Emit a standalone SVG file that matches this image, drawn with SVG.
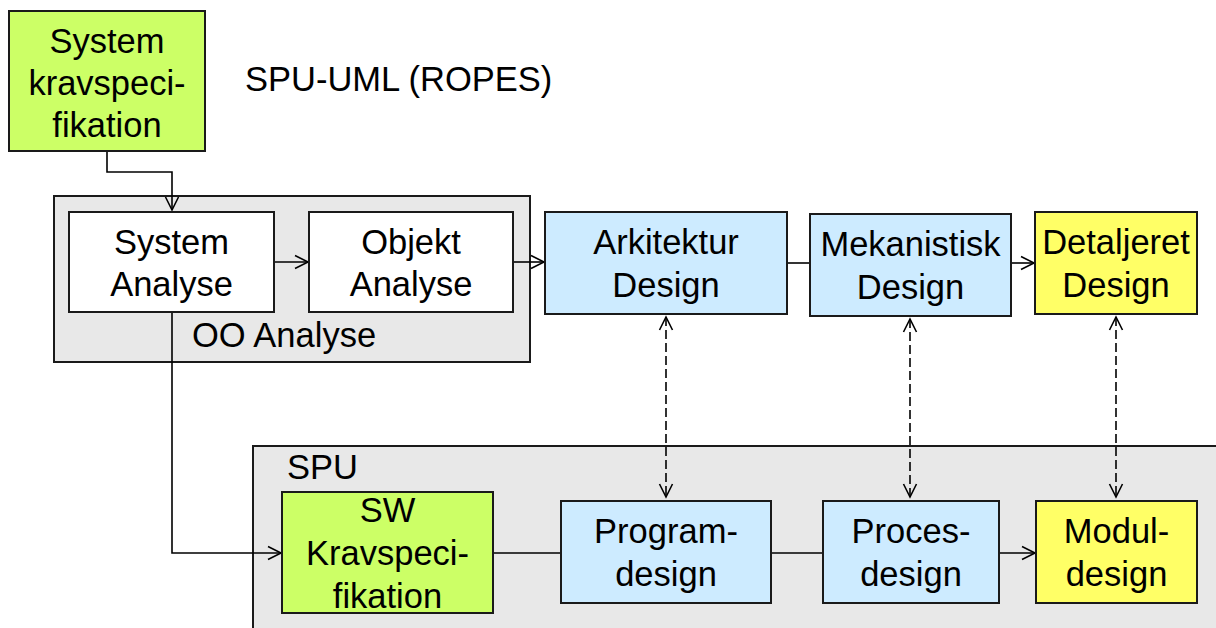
<svg xmlns="http://www.w3.org/2000/svg" width="1216" height="628" viewBox="0 0 1216 628">
<defs>
<style>
text{font-family:"Liberation Sans",Arial,sans-serif;font-size:34.5px;fill:#000}
.c{text-anchor:middle}
.box{stroke:#1a1a1a;stroke-width:2}
.lime{fill:#ccff66}
.blue{fill:#cdebff}
.yel{fill:#ffff66}
.wht{fill:#ffffff}
.grp{fill:#e8e8e8;stroke:#1a1a1a;stroke-width:2}
.ln{fill:none;stroke:#000;stroke-width:1.6}
.dash{stroke-dasharray:9,4}
</style>
<marker id="arr" markerUnits="userSpaceOnUse" markerWidth="16" markerHeight="16" viewBox="0 0 16 16" refX="14" refY="8" orient="auto-start-reverse">
<path d="M1,1.5 L14,8 L1,14.5" fill="none" stroke="#000" stroke-width="1.6"/>
</marker>
</defs>
<rect width="1216" height="628" fill="#ffffff"/>

<g id="containers">
<rect id="oo" class="grp" x="54" y="196" width="476" height="166"/>
<rect id="spu" class="grp" x="253" y="446" width="980" height="200"/>
</g>

<text x="245" y="91">SPU-UML (ROPES)</text>
<text x="192" y="347">OO Analyse</text>
<text x="287" y="479">SPU</text>

<g id="connectors">
<path class="ln" d="M107,151 V172 H172 V210" marker-end="url(#arr)"/>
<path class="ln" d="M274,262 H308" marker-end="url(#arr)"/>
<path class="ln" d="M513,262 H544" marker-end="url(#arr)"/>
<path class="ln" d="M787,263 H810"/>
<path class="ln" d="M1011,263 H1034" marker-end="url(#arr)"/>
<path class="ln" d="M172,312 V553 H281" marker-end="url(#arr)"/>
<path class="ln" d="M493,553 H561"/>
<path class="ln" d="M771,553 H823"/>
<path class="ln" d="M999,553 H1035" marker-end="url(#arr)"/>
<path class="ln dash" d="M666,317 V497" marker-start="url(#arr)" marker-end="url(#arr)"/>
<path class="ln dash" d="M910,319 V497" marker-start="url(#arr)" marker-end="url(#arr)"/>
<path class="ln dash" d="M1116,317 V497" marker-start="url(#arr)" marker-end="url(#arr)"/>
</g>

<g id="syskrav">
<rect class="box lime" x="9" y="11" width="196" height="140"/>
<text class="c" x="107" y="53">System</text>
<text class="c" x="107" y="95">kravspeci-</text>
<text class="c" x="107" y="137">fikation</text>
</g>

<g id="sysanalyse">
<rect class="box wht" x="69" y="212" width="205" height="100"/>
<text class="c" x="171.5" y="254">System</text>
<text class="c" x="171.5" y="296">Analyse</text>
</g>

<g id="objektanalyse">
<rect class="box wht" x="309" y="212" width="204" height="100"/>
<text class="c" x="411" y="254">Objekt</text>
<text class="c" x="411" y="296">Analyse</text>
</g>

<g id="arkitektur">
<rect class="box blue" x="545" y="212" width="242" height="102"/>
<text class="c" x="666" y="254">Arkitektur</text>
<text class="c" x="666" y="297">Design</text>
</g>

<g id="mekanistisk">
<rect class="box blue" x="810" y="214" width="201" height="102"/>
<text class="c" x="910.5" y="256">Mekanistisk</text>
<text class="c" x="910.5" y="299">Design</text>
</g>

<g id="detaljeret">
<rect class="box yel" x="1035" y="212" width="162" height="102"/>
<text class="c" x="1116" y="254">Detaljeret</text>
<text class="c" x="1116" y="297">Design</text>
</g>

<g id="swkrav">
<rect class="box lime" x="282" y="492" width="211" height="121"/>
<text class="c" x="387.5" y="522">SW</text>
<text class="c" x="387.5" y="565">Kravspeci-</text>
<text class="c" x="387.5" y="608">fikation</text>
</g>

<g id="program">
<rect class="box blue" x="561" y="501" width="210" height="102"/>
<text class="c" x="666" y="543">Program-</text>
<text class="c" x="666" y="586">design</text>
</g>

<g id="proces">
<rect class="box blue" x="823" y="501" width="176" height="102"/>
<text class="c" x="911" y="543">Proces-</text>
<text class="c" x="911" y="586">design</text>
</g>

<g id="modul">
<rect class="box yel" x="1036" y="501" width="161" height="102"/>
<text class="c" x="1116.5" y="543">Modul-</text>
<text class="c" x="1116.5" y="586">design</text>
</g>
</svg>
